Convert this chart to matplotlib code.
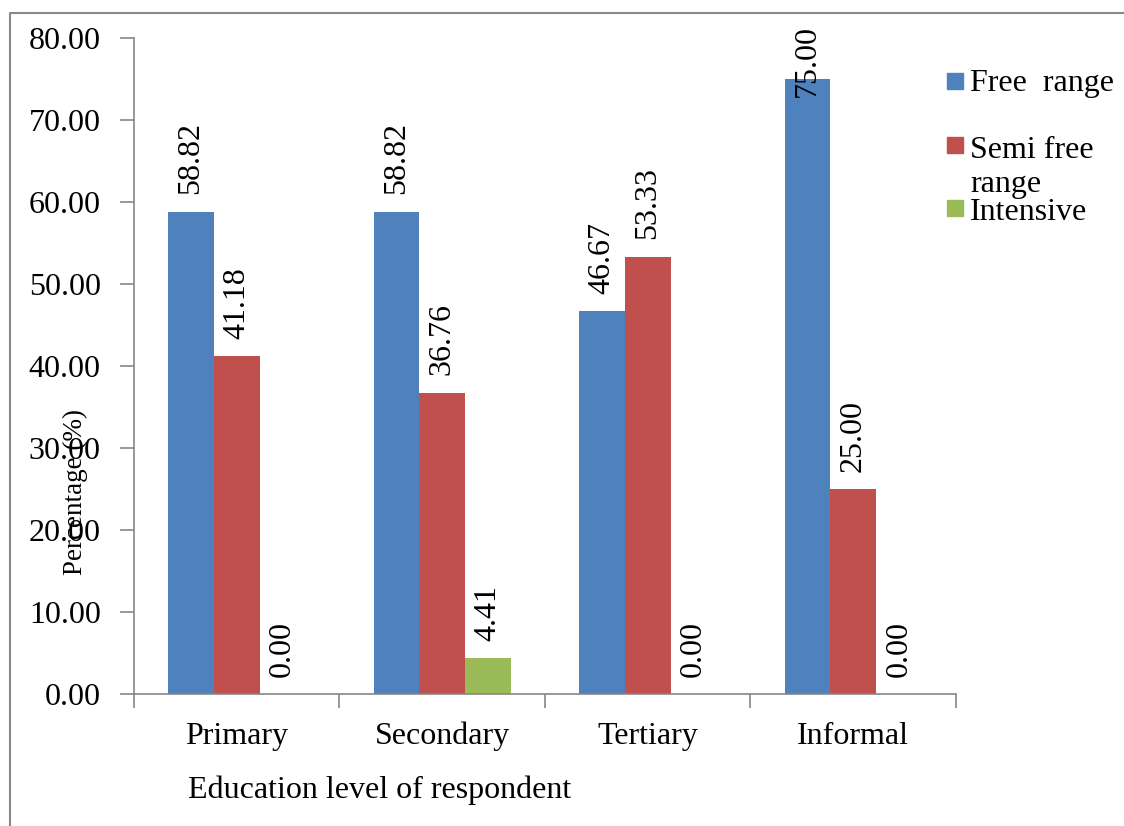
import numpy as np
import matplotlib
matplotlib.use("Agg")
import matplotlib.pyplot as plt
from matplotlib.patches import Rectangle
from matplotlib.lines import Line2D

plt.rcParams['font.family'] = ['Liberation Serif', 'DejaVu Serif']

categories = ['Primary', 'Secondary', 'Tertiary', 'Informal']
free_range = [58.82, 58.82, 46.67, 75.00]
semi_free = [41.18, 36.76, 53.33, 25.00]
intensive = [0.00, 4.41, 0.00, 0.00]
series_names = ['Free  range', 'Semi free\nrange', 'Intensive']
colors = ['#4F81BD', '#C0504D', '#9BBB59']
yticks = [0, 10, 20, 30, 40, 50, 60, 70, 80]

fig = plt.figure(figsize=(11.24, 8.26), dpi=100)
ax = fig.add_axes([0.1192, 0.1598, 0.8505 - 0.1192, 0.954 - 0.1598])

x = np.arange(len(categories))
w = 0.222
fs = 23
for i, (vals, c) in enumerate(zip([free_range, semi_free, intensive], colors)):
    pos = x + (i - 1) * w
    ax.bar(pos, vals, width=w, color=c, zorder=2)
    for p, v in zip(pos, vals):
        ypos = min(v + 2.1, 72.8)
        ax.text(p, ypos, f'{v:.2f}', rotation=90, ha='center', va='bottom',
                fontsize=fs, clip_on=False)

ax.set_xlim(-0.5, len(categories) - 0.5)
ax.set_ylim(0, 80)
ax.set_yticks(yticks)
ax.set_yticklabels([f'{t:.2f}' for t in yticks], fontsize=fs)
ax.tick_params(axis='y', direction='out', length=10, width=1.2,
               color='#868686', pad=14)

ax.set_xticks(x)
ax.set_xticklabels(categories, fontsize=fs, va='baseline')
ax.set_xticks(np.arange(len(categories) + 1) - 0.5, minor=True)
ax.tick_params(axis='x', which='major', length=0, pad=36)
ax.tick_params(axis='x', which='minor', direction='out', length=10,
               width=1.2, color='#868686')

for s in ['top', 'right']:
    ax.spines[s].set_visible(False)
for s in ['left', 'bottom']:
    ax.spines[s].set_color('#868686')
    ax.spines[s].set_linewidth(1.2)

# axis titles as placed in the original layout
fig.text(75 / 1124, 1 - 492 / 826, 'Percentage (%)', rotation=90,
         ha='center', va='center', fontsize=19.5)
fig.text(188 / 1124, 1 - 790 / 826, 'Education level of respondent',
         ha='left', va='center', fontsize=fs)

# legend (baseline of the last line of each label)
leg_y = [81, 145, 208]
for c, yy in zip(colors, leg_y):
    fig.add_artist(Rectangle((947 / 1124, 1 - (yy + 8) / 826), 16 / 1124,
                             16 / 826, transform=fig.transFigure,
                             color=c))
for name, yy in zip(series_names, [91, 192, 220]):
    fig.text(970 / 1124, 1 - yy / 826, name, ha='left',
             va='baseline', fontsize=fs, linespacing=1.25)

# chart border
fig.add_artist(Line2D([10 / 1124, 10 / 1124, 1.0], [0.0, 1 - 13 / 826, 1 - 13 / 826],
                      transform=fig.transFigure, color='#888888', lw=1.5))

fig.savefig('out.png', dpi=100)
